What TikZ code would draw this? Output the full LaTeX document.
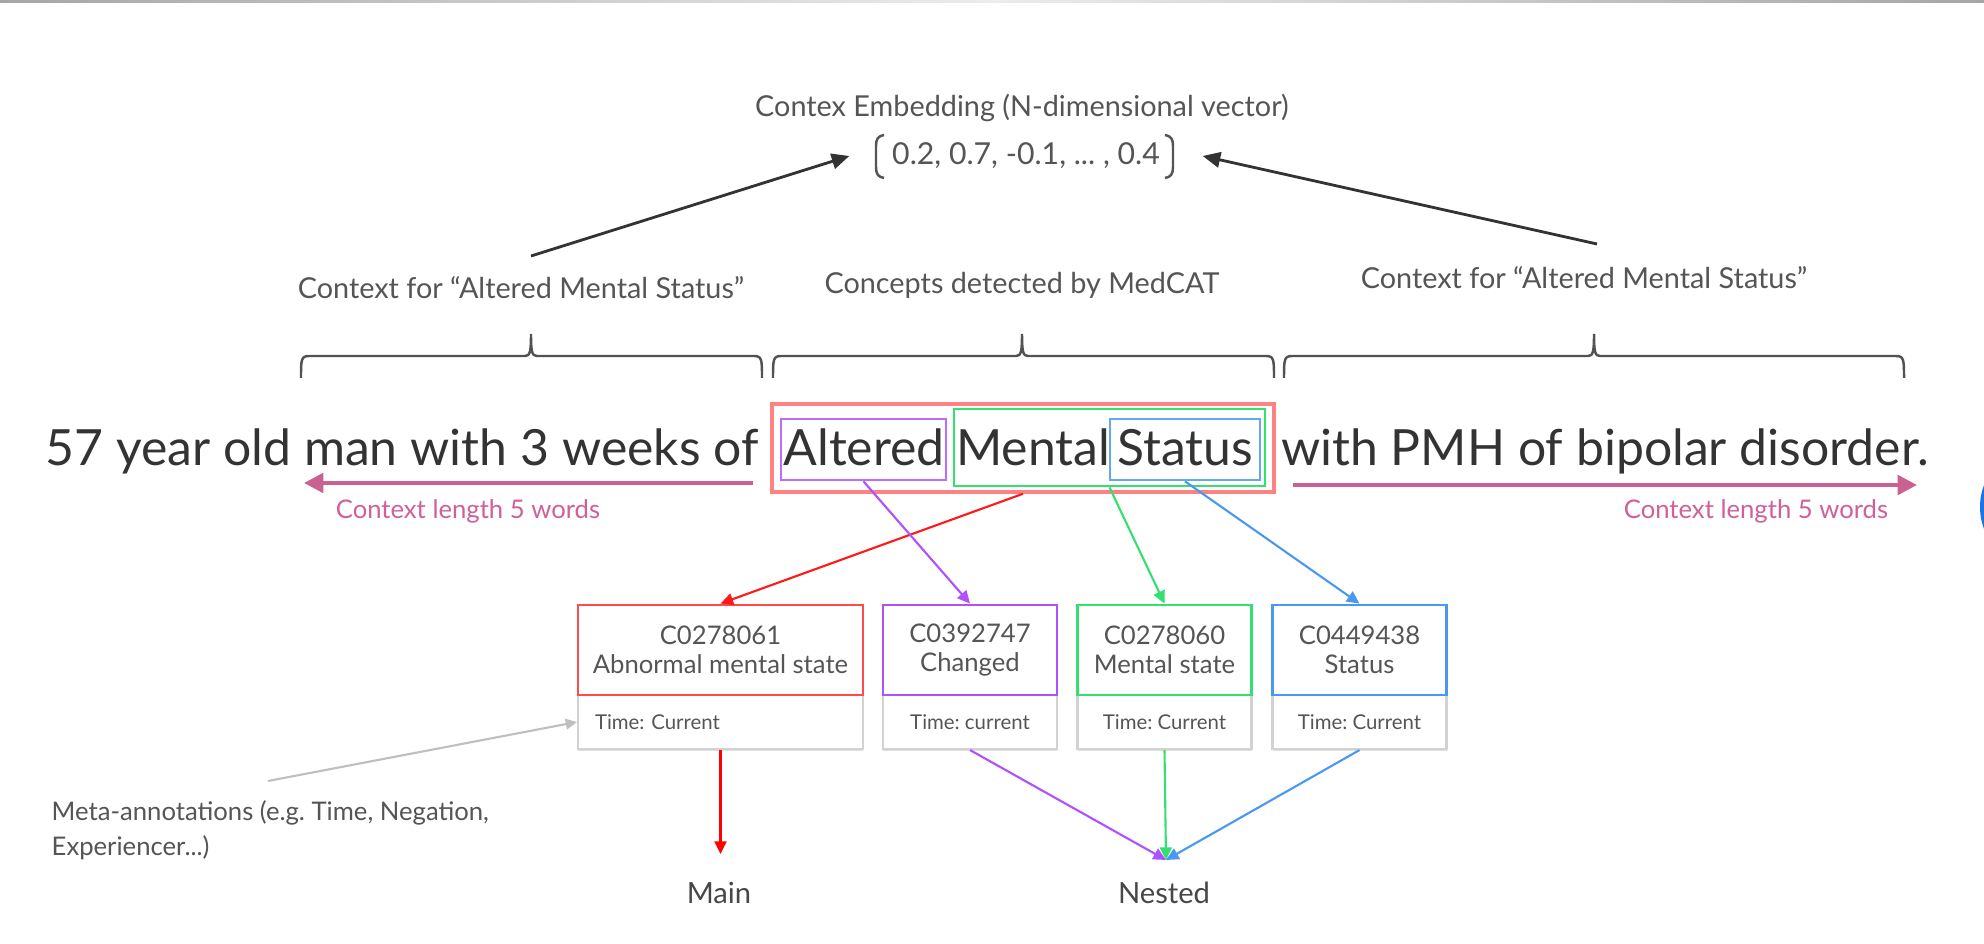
\documentclass[tikz,border=0pt]{standalone}
\usepackage{fontspec}
\setmainfont{Lato}
\usetikzlibrary{arrows.meta,shadows}
\definecolor{txt}{HTML}{333333}
\definecolor{lbl}{HTML}{555555}
\definecolor{cred}{HTML}{FF4B4B}
\definecolor{cpur}{HTML}{B050FF}
\definecolor{cgrn}{HTML}{33E070}
\definecolor{cblu}{HTML}{4A98F0}
\definecolor{pinkarr}{HTML}{C2457E}
\definecolor{pinktxt}{HTML}{D0609A}
\definecolor{gblue}{HTML}{1A73E8}
\newcommand\bracepath[3]{%
  \draw[bracestyle] (#1,378) .. controls (#1,360) and (#1,356) .. (#1+8,356) -- (#2-6,356)
    .. controls (#2-1,356) and (#2,352) .. (#2,334)
    .. controls (#2,352) and (#2+1,356) .. (#2+6,356) -- (#3-8,356)
    .. controls (#3,356) and (#3,360) .. (#3,378);}
\begin{document}
\frenchspacing
\begin{tikzpicture}[x=0.1mm,y=-0.1mm,
  mainw/.style={font=\fontsize{14.2}{18}\selectfont, text=txt, anchor=base, inner sep=0pt},
  lab/.style={font=\fontsize{8.2}{10}\selectfont, text=lbl, inner sep=0pt},
  ctxlen/.style={font=\fontsize{7.3}{9}\selectfont, text=pinktxt, inner sep=0pt},
  sbox/.style={draw, line width=0.8pt, inner sep=0pt},
  cbox/.style={draw, line width=0.8pt, minimum height=9mm, align=center,
    font=\fontsize{7.3}{8.4}\selectfont, text=lbl, inner sep=0pt},
  mbox/.style={draw=gray!35, fill=white, line width=0.6pt, minimum height=5.4mm, inner ysep=0pt,
    font=\fontsize{5.8}{7}\selectfont, text=lbl,
    drop shadow={shadow xshift=0pt, shadow yshift=-0.7pt, opacity=0.25, fill=gray}},
  conn/.style={line width=0.6pt, -{Triangle[length=3.6pt,width=3.4pt]}},
  emb/.style={line width=0.8pt, draw=txt, -{Triangle[length=5pt,width=4.4pt]}},
  pinkline/.style={line width=1.2pt, draw=pinkarr!85, -{Triangle[length=5.5pt,width=5.5pt]}},
  bracestyle/.style={draw=txt!85, line width=0.7pt},
  vbracket/.style={draw=lbl, line width=0.7pt},
  bottomlab/.style={font=\fontsize{8.3}{10}\selectfont, text=txt!90, inner sep=0pt}]
\useasboundingbox (0,0) rectangle (1984,944);
\fill[white] (0,0) rectangle (1984,944);
\shade[left color=gray!70, right color=gray!70, middle color=gray!15] (0,0) rectangle (1984,3);
\fill[gblue] (2042,507) circle[radius=62];

% embedding title and vector
\node[lab] (title) at (1022,108) {Contex Embedding (N-dimensional vector)};
\node[lab, font=\fontsize{8.6}{10}\selectfont, minimum width=35.2mm] (vec) at (1026,156) {0.2, 0.7, -0.1, ... , 0.4};
\draw[vbracket] (884,135) .. controls (878,136) and (876,139) .. (876,146) -- (876,167) .. controls (876,174) and (878,177) .. (884,178);
\draw[vbracket] (1165,135) .. controls (1171,136) and (1173,139) .. (1173,146) -- (1173,167) .. controls (1173,174) and (1171,177) .. (1165,178);

% context labels
\node[lab] (ctxL) at (521,288) {Context for “Altered Mental Status”};
\node[lab] (conc) at (1022,285) {Concepts detected by MedCAT};
\node[lab] (ctxR) at (1584,278) {Context for “Altered Mental Status”};
\coordinate (eL0) at (531,256);
\coordinate (eR0) at (1597,244);
\draw[emb] (eL0) -- (vec.west);
\draw[emb] (eR0) -- (vec.east);

% braces
\bracepath{301}{531}{762}
\bracepath{773}{1022}{1274}
\bracepath{1284}{1594}{1904}

% sentence
\node[mainw] (t1) at (402,466) {57 year old man with 3 weeks of};
\node[mainw] (altered) at (864,466) {Altered};
\node[mainw] (mental) at (1033,466) {Mental};
\node[mainw] (status) at (1185,466) {Status};
\node[mainw] (t2) at (1605,466) {with PMH of bipolar disorder.};

\node[sbox, draw=cred!70, line width=1pt, minimum width=50.2mm, minimum height=8.8mm] (redS) at (1023,448) {};
\node[sbox, draw=cgrn, minimum width=31.1mm, minimum height=7.7mm] (grnS) at (1109.5,447.5) {};
\node[sbox, draw=cpur!85, minimum width=16.5mm, minimum height=6.1mm] (purS) at (863.5,449.5) {};
\node[sbox, draw=cblu!85, minimum width=15mm, minimum height=6.1mm] (bluS) at (1185,449.5) {};

% context length arrows
\coordinate (pL1) at (753,483);
\coordinate (pL2) at (304,483);
\coordinate (pR1) at (1293,485);
\coordinate (pR2) at (1917,485);
\draw[pinkline] (pL1) -- (pL2);
\draw[pinkline] (pR1) -- (pR2);
\node[ctxlen] (lenL) at (468,511) {Context length 5 words};
\node[ctxlen] (lenR) at (1756,511) {Context length 5 words};

% concept boxes
\node[mbox, text width=25.1mm, inner xsep=1.7mm, align=left] (mA) at (720.5,722) {Time: Current};
\node[mbox, minimum width=17.4mm, inner xsep=0pt, align=center] (mB) at (970,722) {Time: current};
\node[mbox, minimum width=17.4mm, inner xsep=0pt, align=center] (mC) at (1164.5,722) {Time: Current};
\node[mbox, minimum width=17.4mm, inner xsep=0pt, align=center] (mD) at (1359.5,722) {Time: Current};
\node[cbox, draw=cred, fill=white, minimum width=28.5mm] (cA) at (720.5,650) {C0278061\\Abnormal mental state};
\node[cbox, draw=cpur, fill=white, minimum width=17.4mm] (cB) at (970,650) {C0392747\\Changed};
\node[cbox, draw=cgrn, fill=white, minimum width=17.4mm] (cC) at (1164.5,650) {C0278060\\Mental state};
\node[cbox, draw=cblu, fill=white, minimum width=17.4mm] (cD) at (1359.5,650) {C0449438\\Status};

% connectors sentence -> concepts
\draw[conn, draw=red!90, fill=red!90] (redS.south) -- (cA.north);
\draw[conn, draw=cpur, fill=cpur] (purS.south) -- (cB.north);
\draw[conn, draw=cgrn, fill=cgrn] (grnS.south) -- (cC.north);
\draw[conn, draw=cblu, fill=cblu] (bluS.south) -- (cD.north);

% main / nested
\node[bottomlab] (mainlbl) at (719,893) {Main};
\node[bottomlab] (nestlbl) at (1164,893) {Nested};
\coordinate (mainArr) at (720.5,854);
\coordinate (nestArr) at (1166,860);
\draw[conn, draw=red, fill=red] (mA.south) -- (mainArr);
\draw[conn, draw=cpur, fill=cpur] (mB.south) -- (nestArr);
\draw[conn, draw=cgrn, fill=cgrn] (mC.south) -- (nestArr);
\draw[conn, draw=cblu, fill=cblu] (mD.south) -- (nestArr);

% meta annotations
\node[anchor=north west, align=left, font=\fontsize{7.3}{10}\selectfont, text=lbl, inner sep=0pt] (meta) at (51,800) {Meta-annotations (e.g. Time, Negation,\\Experiencer...)};
\coordinate (metaStart) at (268,781);
\draw[line width=0.6pt, draw=gray!50, -{Triangle[length=3.2pt,width=3pt]}] (metaStart) -- (mA.west);
\end{tikzpicture}
\end{document}
